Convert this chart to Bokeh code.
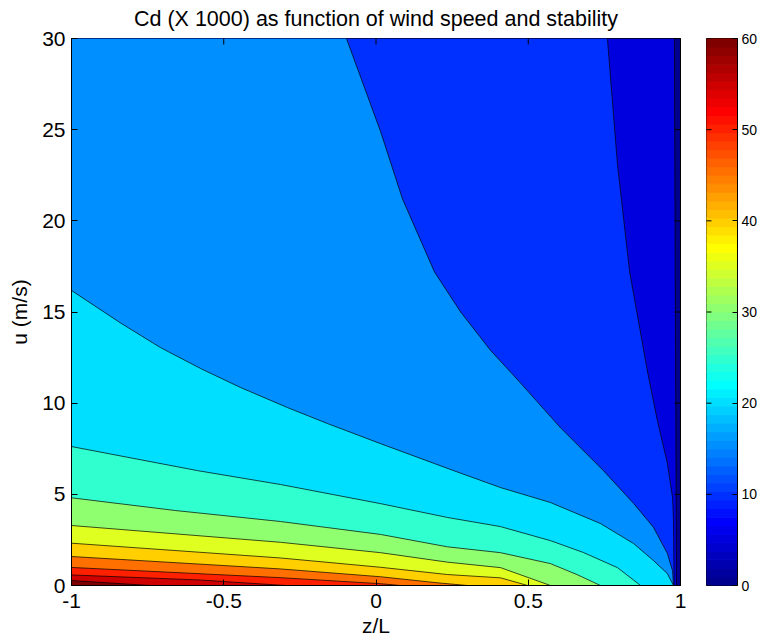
import numpy as np
from bokeh.plotting import figure
from bokeh.models import Range1d, FixedTicker
from bokeh.layouts import row
from bokeh.embed import file_html
from bokeh.resources import INLINE

# ---------------- data ----------------
title_text = "Cd (X 1000) as function of wind speed and stability"
x_label = "z/L"
y_label = "u (m/s)"
x_ticks = [-1, -0.5, 0, 0.5, 1]
x_tick_labels = ["-1", "-0.5", "0", "0.5", "1"]
y_ticks = [0, 5, 10, 15, 20, 25, 30]
cbar_ticks = [0, 10, 20, 30, 40, 50, 60]
x_lim = (-1, 1)
u_lim = (0, 30)
c_lim = (0, 60)

levels = [5, 10, 15, 20, 25, 30, 35, 40, 45, 50, 55, 60]

c5_x = [0.980, 0.982, 0.985, 0.987]
c5_u = [30.0, 20.0, 8.0, 0.0]

c10_x = [0.760, 0.793, 0.833, 0.892, 0.924, 0.957, 0.974, 0.977, 0.979]
c10_u = [30.0, 23.1, 17.2, 11.7, 9.05, 6.7, 4.8, 3.6, 0.0]

c15_x = [-0.097, 0.015, 0.087, 0.192, 0.278, 0.376, 0.475, 0.606, 0.747, 0.846, 0.911, 0.957, 0.974, 0.977]
c15_u = [30.0, 24.9, 21.2, 17.2, 15.0, 12.9, 11.1, 8.65, 6.3, 4.5, 3.2, 1.75, 0.8, 0.0]

c20_x = [-1.0, -0.839, -0.708, -0.576, -0.445, -0.291, -0.159, 0.015, 0.255, 0.409, 0.573, 0.737, 0.846, 0.911, 0.957, 0.977]
c20_u = [16.18, 14.4, 13.05, 11.9, 10.86, 9.76, 8.88, 7.78, 6.3, 5.37, 4.55, 3.4, 2.3, 1.37, 0.65, 0.0]

c25_x = [-1.0, -0.586, -0.314, 0.015, 0.235, 0.409, 0.573, 0.681, 0.793, 0.869]
c25_u = [7.62, 6.3, 5.54, 4.49, 3.73, 3.23, 2.46, 1.81, 0.98, 0.0]

c30_x = [-1.0, -0.658, -0.314, 0.015, 0.235, 0.409, 0.573, 0.660, 0.737]
c30_u = [4.81, 4.11, 3.51, 2.8, 2.12, 1.8, 1.2, 0.6, 0.0]

c35_x = [-1.0, -0.314, 0.015, 0.235, 0.409, 0.573]
c35_u = [3.29, 2.37, 1.8, 1.28, 0.98, 0.0]

c40_x = [-1.0, -0.314, 0.015, 0.235, 0.409, 0.498]
c40_u = [2.32, 1.51, 1.0, 0.6, 0.42, 0.0]

c45_x = [-1.0, -0.314, 0.015, 0.2, 0.30]
c45_u = [1.59, 0.91, 0.48, 0.15, 0.0]

c50_x = [-1.0, -0.314, 0.015, 0.08]
c50_u = [0.99, 0.43, 0.1, 0.0]

c55_x = [-1.0, -0.576, -0.297]
c55_u = [0.58, 0.3, 0.0]

c60_x = [-1.0, -0.74]
c60_u = [0.27, 0.0]

contours_x = [c5_x, c10_x, c15_x, c20_x, c25_x, c30_x, c35_x, c40_x, c45_x, c50_x, c55_x, c60_x]
contours_u = [c5_u, c10_u, c15_u, c20_u, c25_u, c30_u, c35_u, c40_u, c45_u, c50_u, c55_u, c60_u]


# ---------------- colormap (MATLAB jet, 64 entries) ----------------
def jet(m=64):
    n = int(np.ceil(m / 4))
    u = np.concatenate([np.arange(1, n + 1) / n, np.ones(n - 1), np.arange(n, 0, -1) / n])
    g = int(np.ceil(n / 2)) - (1 if m % 4 == 1 else 0) + np.arange(1, len(u) + 1)
    r = g + n
    b = g - n
    J = np.zeros((m, 3))
    for arr, ch in ((r, 0), (g, 1), (b, 2)):
        mask = (arr >= 1) & (arr <= m)
        J[arr[mask] - 1, ch] = u[mask]
    return ["#%02x%02x%02x" % tuple(int(round(c * 255)) for c in rgb) for rgb in J]


palette = jet(64)


def level_color(v):
    idx = int((v - c_lim[0]) / (c_lim[1] - c_lim[0]) * len(palette))
    return palette[max(0, min(idx, len(palette) - 1))]


FONT = "Liberation Sans"
TICK_FS = "21px"

# ---------------- main contour figure ----------------
p = figure(width=700, height=643, x_range=Range1d(*x_lim), y_range=Range1d(*u_lim),
           output_backend="svg", toolbar_location=None,
           min_border_left=71, min_border_right=20, min_border_top=38, min_border_bottom=58)
p.background_fill_color = level_color(c_lim[0])
p.border_fill_color = "white"
p.outline_line_color = "black"
p.outline_line_width = 1
p.grid.visible = False

for lev, cx, cu in zip(levels, contours_x, contours_u):
    xs = list(cx) + [x_lim[0]]
    ys = list(cu) + [u_lim[0]]
    if cu[0] >= u_lim[1] and cx[0] > x_lim[0]:
        xs.append(x_lim[0])
        ys.append(u_lim[1])
    p.patch(xs, ys, fill_color=level_color(lev), line_color=None)

for cx, cu in zip(contours_x, contours_u):
    p.line(cx, cu, line_color="black", line_width=0.7)

# inward tick marks on the top and right edges (half of each dash is clipped by the frame)
p.scatter(x=x_ticks, y=[u_lim[1]] * len(x_ticks), marker="dash", size=12, angle=np.pi / 2,
          line_color="black", line_width=1)
p.scatter(x=[x_lim[1]] * len(y_ticks), y=y_ticks, marker="dash", size=12,
          line_color="black", line_width=1)

p.title.text = title_text
p.title.align = "center"
p.title.vertical_align = "top"
p.title.text_font = FONT
p.title.text_font_size = "21.5px"
p.title.text_font_style = "normal"
p.title.text_color = "black"
p.title.text_line_height = 0.6
p.title.standoff = 12

overrides = {t: lab for t, lab in zip(x_ticks, x_tick_labels)}

for ax in (p.xaxis[0], p.yaxis[0]):
    ax.axis_line_color = "black"
    ax.major_tick_line_color = "black"
    ax.major_tick_in = 6
    ax.major_tick_out = 0
    ax.minor_tick_line_color = None
    ax.major_label_text_font = FONT
    ax.major_label_text_font_size = TICK_FS
    ax.major_label_text_color = "black"
    ax.axis_label_text_font = FONT
    ax.axis_label_text_font_size = TICK_FS
    ax.axis_label_text_font_style = "normal"
    ax.axis_label_text_color = "black"

p.xaxis.ticker = FixedTicker(ticks=x_ticks)
p.xaxis.major_label_overrides = overrides
p.xaxis.axis_label = x_label
p.xaxis.major_label_standoff = 8
p.xaxis.axis_label_standoff = 3
p.yaxis.ticker = FixedTicker(ticks=y_ticks)
p.yaxis.axis_label = y_label
p.yaxis.major_label_standoff = 6
p.yaxis.axis_label_standoff = 8

# ---------------- colour bar figure ----------------
cb = figure(width=64, height=643, x_range=Range1d(0, 1), y_range=Range1d(*c_lim),
            output_backend="svg", toolbar_location=None,
            x_axis_location=None, y_axis_location="right",
            min_border_left=6, min_border_right=27, min_border_top=38, min_border_bottom=58)
cb.grid.visible = False
cb.outline_line_color = "black"
cb.border_fill_color = "white"
step = (c_lim[1] - c_lim[0]) / len(palette)
bottoms = [c_lim[0] + i * step for i in range(len(palette))]
tops = [b + step for b in bottoms]
cb.quad(left=0, right=1, bottom=bottoms, top=tops, fill_color=palette,
        line_color=palette, line_width=1)
cb.scatter(x=[0] * len(cbar_ticks), y=cbar_ticks, marker="dash", size=10,
           line_color="black", line_width=1)

cax = cb.yaxis[0]
cax.ticker = FixedTicker(ticks=cbar_ticks)
cax.major_tick_in = 5
cax.major_tick_out = 0
cax.minor_tick_line_color = None
cax.axis_line_color = "black"
cax.major_tick_line_color = "black"
cax.major_label_text_font = FONT
cax.major_label_text_font_size = "14px"
cax.major_label_text_color = "black"
cax.major_label_standoff = 4

layout = row(p, cb)
open("out.html", "w").write(file_html(layout, INLINE))
